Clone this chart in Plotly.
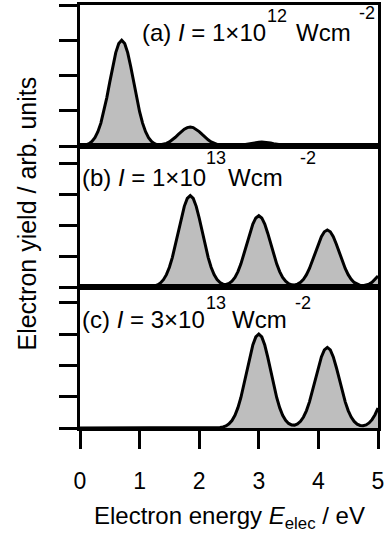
import plotly.graph_objects as go
from plotly.subplots import make_subplots

# Electron energy grid (eV), 0.05 eV steps
energy = [round(i * 0.05, 2) for i in range(101)]

# (a) I = 1e12 W/cm^2
yield_a = [0.007, 0.015, 0.033, 0.068, 0.132, 0.239, 0.406, 0.649, 0.974, 1.373,
           1.820, 2.264, 2.648, 2.908, 3.000, 2.908, 2.648, 2.264, 1.820, 1.373,
           0.974, 0.649, 0.406, 0.239, 0.132, 0.068, 0.033, 0.039, 0.050, 0.073,
           0.117, 0.175, 0.247, 0.328, 0.408, 0.477, 0.523, 0.540, 0.523, 0.477,
           0.408, 0.328, 0.247, 0.175, 0.117, 0.073, 0.043, 0.024, 0.012, 0.006,
           0.003, 0.005, 0.009, 0.015, 0.024, 0.036, 0.050, 0.067, 0.083, 0.097,
           0.107, 0.110, 0.107, 0.097, 0.083, 0.067, 0.050, 0.036, 0.024, 0.015,
           0.009, 0.005, 0.003, 0.002, 0.003, 0.004, 0.007, 0.010, 0.014, 0.018,
           0.023, 0.026, 0.029, 0.030, 0.030, 0.030, 0.029, 0.026, 0.023, 0.018,
           0.014, 0.010, 0.007, 0.005, 0.004, 0.003, 0.003, 0.003, 0.004, 0.005,
           0.006]

# (b) I = 1e13 W/cm^2
yield_b = [0.0] * 23 + [
           0.006, 0.015, 0.033, 0.067, 0.130, 0.235, 0.399, 0.638, 0.958, 1.351,
           1.789, 2.227, 2.603, 2.859, 2.950, 2.859, 2.603, 2.227, 1.789, 1.351,
           0.958, 0.638, 0.399, 0.240, 0.142, 0.093, 0.085, 0.116, 0.190, 0.311,
           0.497, 0.747, 1.053, 1.395, 1.736, 2.030, 2.229, 2.300, 2.229, 2.030,
           1.736, 1.395, 1.053, 0.747, 0.497, 0.311, 0.187, 0.110, 0.072, 0.068,
           0.093, 0.151, 0.249, 0.398, 0.597, 0.842, 1.116, 1.389, 1.624, 1.783,
           1.840, 1.783, 1.624, 1.389, 1.116, 0.842, 0.597, 0.398, 0.250, 0.148,
           0.087, 0.054, 0.045, 0.057, 0.092, 0.151, 0.239, 0.357]

# (c) I = 3e13 W/cm^2
yield_c = [0.0] * 46 + [
           0.007, 0.015, 0.033, 0.068, 0.132, 0.239, 0.406, 0.649, 0.974, 1.373,
           1.820, 2.264, 2.648, 2.908, 3.000, 2.908, 2.648, 2.264, 1.820, 1.373,
           0.974, 0.649, 0.406, 0.245, 0.145, 0.097, 0.092, 0.128, 0.212, 0.351,
           0.556, 0.834, 1.177, 1.559, 1.940, 2.268, 2.491, 2.570, 2.491, 2.268,
           1.940, 1.559, 1.177, 0.834, 0.556, 0.350, 0.209, 0.123, 0.081, 0.073,
           0.099, 0.161, 0.267, 0.424, 0.635]

x_ticks = [0, 1, 2, 3, 4, 5]
y_ticks = [0, 1, 2, 3, 4]
# panel labels: (main text, intensity exponent, unit, unit exponent)
label_main = ["(a) <i>I</i> = 1×10", "(b) <i>I</i> = 1×10", "(c) <i>I</i> = 3×10"]
label_exp = ["12", "13", "13"]
label_unit = ["Wcm", "Wcm", "Wcm"]
label_unit_exp = ["-2", "-2", "-2"]
y_ranges = [[0, 4.0], [0, 4.55], [0, 4.5]]

FONT = "Liberation Sans, Arial, sans-serif"

fig = make_subplots(rows=3, cols=1, shared_xaxes=True, vertical_spacing=0)
for i, ys in enumerate([yield_a, yield_b, yield_c]):
    fig.add_trace(go.Scatter(x=energy, y=ys, mode="lines", fill="tozeroy",
                             fillcolor="#BEBEBE",
                             line=dict(color="black", width=3),
                             showlegend=False, hoverinfo="skip"),
                  row=i + 1, col=1)

for i in range(3):
    fig.update_yaxes(range=y_ranges[i], tickvals=y_ticks, showticklabels=False,
                     ticks="outside", ticklen=18, tickwidth=3, tickcolor="black",
                     showline=True, linewidth=3, linecolor="black", mirror=True,
                     showgrid=False, zeroline=False, row=i + 1, col=1)
    fig.update_xaxes(range=[0, 5], tickvals=x_ticks, showline=True, linewidth=3,
                     linecolor="black", mirror=True, showgrid=False, zeroline=False,
                     ticks="outside" if i == 2 else "", ticklen=18, tickwidth=3,
                     tickcolor="black", showticklabels=(i == 2),
                     ticklabelstandoff=12,
                     tickfont=dict(size=23, color="black", family=FONT),
                     row=i + 1, col=1)

W, H = 390, 534
L, R, T, B = 80, 12, 2, 106
pw, ph = W - L - R, H - T - B


def px(x):
    return (x - L) / pw


def py(y):
    return (H - B - y) / ph


# pixel positions (left edge, vertical centre) of the label pieces in each panel
main_pos = [(140, 30), (80, 175.5), (80, 319)]
exp_pos = [(265, 13), (204, 156), (204, 302)]
unit_pos = [(294, 30), (226, 175.5), (230, 319)]
uexp_pos = [(357, 10), (298, 156), (293, 302)]

for i in range(3):
    for txt, (xx, yy), size in [(label_main[i], main_pos[i], 24),
                                (label_exp[i], exp_pos[i], 18),
                                (label_unit[i], unit_pos[i], 24),
                                (label_unit_exp[i], uexp_pos[i], 18)]:
        fig.add_annotation(text=txt, xref="paper", yref="paper", x=px(xx), y=py(yy),
                           xanchor="left", yanchor="middle", showarrow=False,
                           font=dict(size=size, color="black", family=FONT))

fig.add_annotation(text="Electron energy <i>E</i><sub>elec</sub> / eV",
                   xref="paper", yref="paper", x=px(229), y=py(518),
                   xanchor="center", yanchor="middle", showarrow=False,
                   font=dict(size=24, color="black", family=FONT))
fig.add_annotation(text="Electron yield / arb. units",
                   xref="paper", yref="paper", x=px(27), y=py(212),
                   xanchor="center", yanchor="middle", textangle=-90, showarrow=False,
                   font=dict(size=25, color="black", family=FONT))

fig.update_layout(width=W, height=H, margin=dict(l=L, r=R, t=T, b=B),
                  paper_bgcolor="white", plot_bgcolor="white",
                  font=dict(family=FONT, color="black"))

fig.write_html("out.html")
